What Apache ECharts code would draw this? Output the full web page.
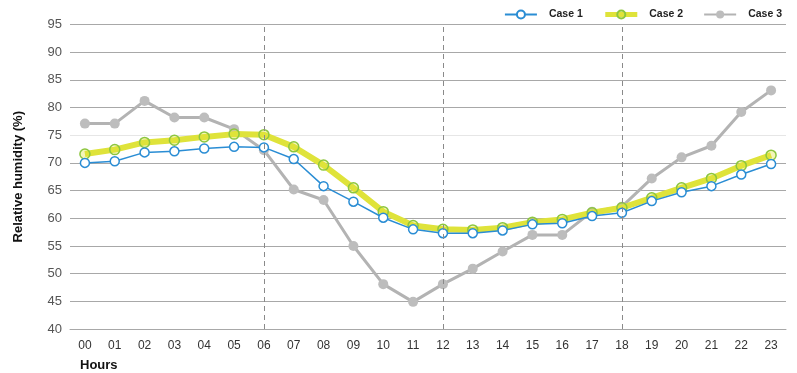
<!DOCTYPE html>
<html><head><meta charset="utf-8">
<script src="https://cdn.jsdelivr.net/npm/echarts@6/dist/echarts.min.js"></script>
<style>html,body{margin:0;padding:0;background:#fff}#c{width:797px;height:373px}</style>
</head><body><div id="c"></div>
<script>
const hours = ['00','01','02','03','04','05','06','07','08','09','10','11','12','13','14','15','16','17','18','19','20','21','22','23'];
const case1 = [70.0,70.3,71.9,72.1,72.6,72.9,72.8,70.7,65.8,63.0,60.1,58.0,57.3,57.3,57.8,58.9,59.1,60.4,61.0,63.1,64.7,65.8,67.9,69.8];
const case2 = [71.6,72.4,73.7,74.1,74.7,75.2,75.1,72.9,69.6,65.5,61.2,58.7,58.0,57.9,58.3,59.3,59.8,61.0,61.9,63.7,65.5,67.2,69.5,71.4];
const case3 = [77.1,77.1,81.2,78.2,78.2,76.1,72.3,65.2,63.3,55.0,48.1,44.9,48.1,50.9,54.0,57.0,57.0,61.2,62.1,67.2,71.0,73.1,79.2,83.1];
const dashedHours = ['06','12','18'];
const yMin = 40, yMax = 95, yStep = 5;

const chart = echarts.init(document.getElementById('c'));
const font = 'Liberation Sans, Arial, sans-serif';
const gridColors = [];
for (let v = yMin; v <= yMax; v += yStep) gridColors.push(v === 75 ? '#e6e6e6' : '#a8a8a8');

chart.setOption({
  animation: false,
  grid: {left: 70, right: 11, top: 24.5, bottom: 44},
  legend: {
    top: 4, right: 10, itemGap: 20, itemWidth: 32, itemHeight: 10,
    textStyle: {fontFamily: font, fontWeight: 'bold', fontSize: 10.5, color: '#222', padding: [0, 0, 0, 7]},
    data: [
      {name: 'Case 1'},
      {name: 'Case 2', lineStyle: {width: 5, color: '#dfe33a'}},
      {name: 'Case 3'}
    ]
  },
  xAxis: {
    type: 'category', data: hours, boundaryGap: true,
    name: 'Hours', nameLocation: 'start', nameGap: 0,
    nameTextStyle: {fontFamily: font, fontWeight: 'bold', fontSize: 13, color: '#111', align: 'left', verticalAlign: 'top', padding: [30, 0, 0, 10]},
    axisLine: {show: true, lineStyle: {color: '#a8a8a8'}},
    axisTick: {show: false},
    axisLabel: {fontFamily: 'Liberation Sans Narrow, ' + font, fontSize: 12, color: '#333', margin: 11},
    splitLine: {show: false}
  },
  yAxis: {
    type: 'value', min: yMin, max: yMax, interval: yStep,
    name: 'Relative humidity (%)', nameLocation: 'middle', nameGap: 45,
    nameTextStyle: {fontFamily: font, fontWeight: 'bold', fontSize: 13, color: '#111'},
    axisLine: {show: false}, axisTick: {show: false},
    axisLabel: {fontFamily: font, fontSize: 13, color: '#555', margin: 8},
    splitLine: {show: true, lineStyle: {color: gridColors, width: 1}}
  },
  series: [
    {
      name: 'Case 3', type: 'line', data: case3, z: 2,
      symbol: 'circle', symbolSize: 10,
      lineStyle: {color: '#b3b3b3', width: 3},
      itemStyle: {color: '#bdbdbd'},
      markLine: {
        silent: true, symbol: 'none', label: {show: false},
        lineStyle: {color: '#8a8a8a', type: [5, 4], width: 1},
        data: dashedHours.map(h => ({xAxis: h}))
      }
    },
    {
      name: 'Case 2', type: 'line', data: case2, z: 3,
      symbol: 'circle', symbolSize: 10,
      lineStyle: {color: '#dfe33a', width: 6},
      itemStyle: {color: 'rgba(223,227,58,0.35)', borderColor: '#8cc63f', borderWidth: 1.5}
    },
    {
      name: 'Case 1', type: 'line', data: case1, z: 4,
      symbol: 'circle', symbolSize: 9,
      lineStyle: {color: '#2a8dd4', width: 1.5},
      itemStyle: {color: '#ffffff', borderColor: '#2a8dd4', borderWidth: 1.5}
    }
  ]
});
</script></body></html>
